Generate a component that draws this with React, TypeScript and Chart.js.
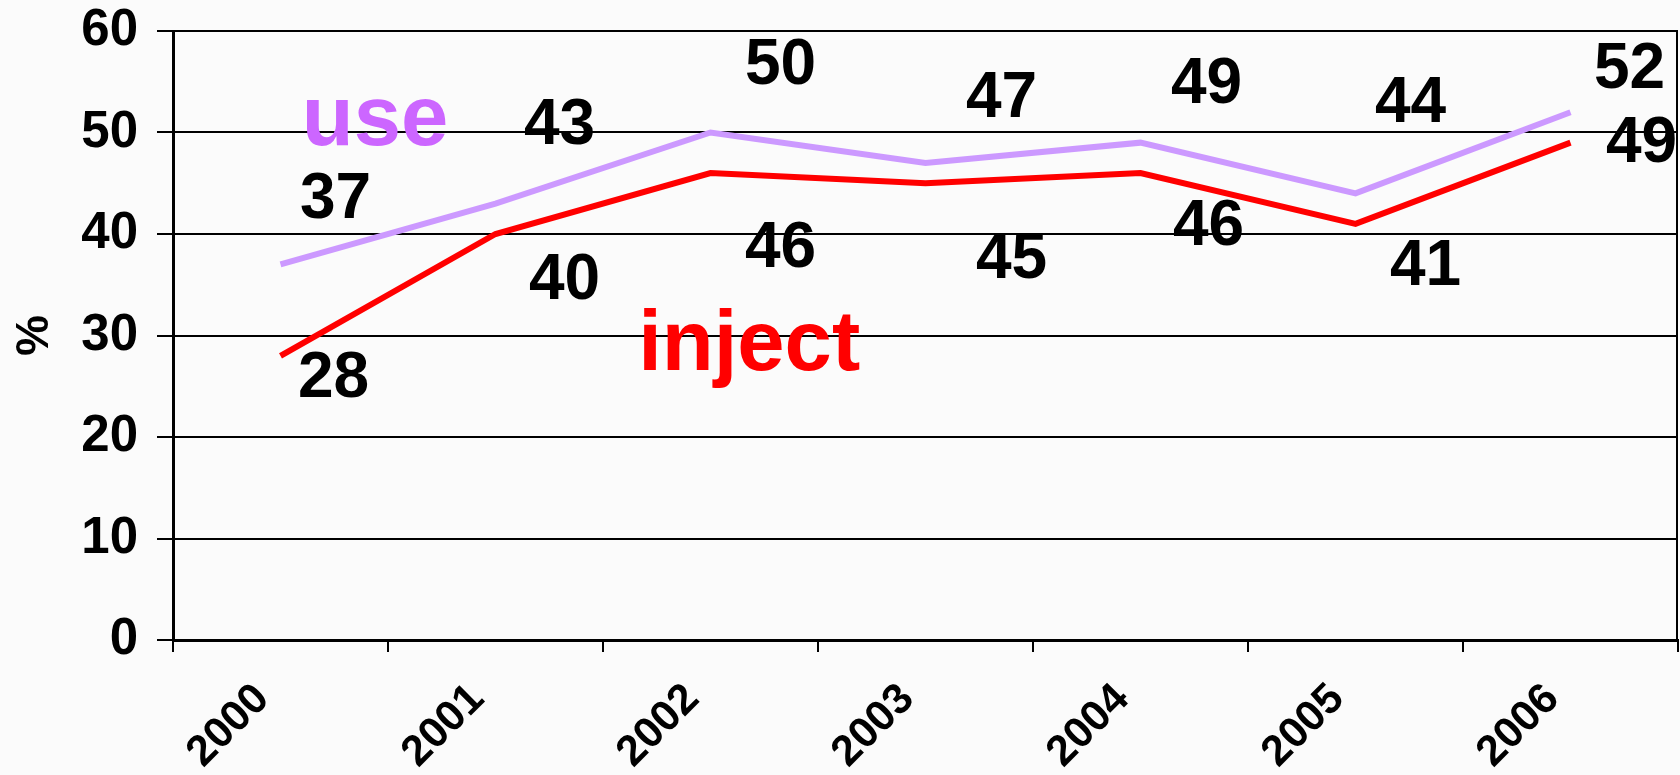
import React, { useEffect, useRef } from "react";
import { Chart, registerables } from "chart.js";

Chart.register(...registerables);

const years = ["2000", "2001", "2002", "2003", "2004", "2005", "2006"];
const useValues = [37, 43, 50, 47, 49, 44, 52];
const injectValues = [28, 40, 46, 45, 46, 41, 49];
const yMin = 0;
const yMax = 60;
const yStep = 10;

// pixel offsets of value labels from their points (layout only)
const useLabelOffsets = [[55, -64], [64, -77], [70, -66], [76, -64], [66, -57], [55, -89], [59, -42]];
const injectLabelOffsets = [[53, 24], [69, 47], [70, 76], [86, 77], [68, 54], [70, 44], [71, 2]];

// series name annotations (category index, value at baseline)
const useNameAt = [0.44, 48.8];
const injectNameAt = [2.18, 26.6];

const FONT = '"Liberation Sans", Arial, sans-serif';
const USE_LINE = "#CC99FF";
const USE_TEXT = "#CC66FF";
const INJECT = "#FF0000";

const labelsPlugin = {
  id: "valueLabels",
  afterDatasetsDraw(chart: any) {
    const ctx = chart.ctx;
    const xs = chart.scales.x;
    const ys = chart.scales.y;
    const area = chart.chartArea;
    ctx.save();
    // right border of plot
    ctx.strokeStyle = "#000";
    ctx.lineWidth = 2;
    ctx.beginPath();
    ctx.moveTo(area.right - 1, area.top);
    ctx.lineTo(area.right - 1, area.bottom);
    ctx.stroke();

    ctx.font = `bold 64px ${FONT}`;
    ctx.fillStyle = "#000";
    ctx.textAlign = "center";
    ctx.textBaseline = "middle";
    useValues.forEach((v, i) => {
      const px = xs.getPixelForValue(i);
      const py = ys.getPixelForValue(v);
      ctx.fillText(String(v), px + useLabelOffsets[i][0], py + useLabelOffsets[i][1]);
    });
    injectValues.forEach((v, i) => {
      const px = xs.getPixelForValue(i);
      const py = ys.getPixelForValue(v);
      ctx.fillText(String(v), px + injectLabelOffsets[i][0], py + injectLabelOffsets[i][1]);
    });

    ctx.font = `bold 85px ${FONT}`;
    ctx.textBaseline = "alphabetic";
    ctx.fillStyle = USE_TEXT;
    ctx.fillText("use", xs.getPixelForValue(useNameAt[0]), ys.getPixelForValue(useNameAt[1]));
    ctx.fillStyle = INJECT;
    ctx.fillText("inject", xs.getPixelForValue(injectNameAt[0]), ys.getPixelForValue(injectNameAt[1]));
    ctx.restore();
  },
};

export default function App() {
  const canvasRef = useRef<HTMLCanvasElement | null>(null);

  useEffect(() => {
    if (!canvasRef.current) return;
    const chart = new Chart(canvasRef.current, {
      type: "line",
      data: {
        labels: years,
        datasets: [
          {
            label: "use",
            data: useValues,
            borderColor: USE_LINE,
            backgroundColor: USE_LINE,
            borderWidth: 6,
            pointRadius: 0,
            tension: 0,
          },
          {
            label: "inject",
            data: injectValues,
            borderColor: INJECT,
            backgroundColor: INJECT,
            borderWidth: 6,
            pointRadius: 0,
            tension: 0,
          },
        ],
      },
      options: {
        responsive: false,
        maintainAspectRatio: false,
        animation: false,
        layout: { padding: { left: 0, top: 31, right: 2, bottom: 0 } },
        plugins: {
          legend: { display: false },
          tooltip: { enabled: false },
        },
        scales: {
          x: {
            type: "category",
            offset: true,
            grid: {
              offset: true,
              drawOnChartArea: false,
              drawTicks: true,
              tickLength: 12,
              color: "#000",
              lineWidth: 2,
            },
            border: { color: "#000", width: 3 },
            ticks: {
              autoSkip: false,
              minRotation: 45,
              maxRotation: 45,
              color: "#000",
              padding: 22,
              labelOffset: -18,
              font: { family: FONT, size: 43, weight: "bold" },
            },
            afterFit(scale: any) {
              scale.height = 135;
              scale.paddingLeft = 0;
              scale.paddingRight = 0;
            },
          },
          y: {
            min: yMin,
            max: yMax,
            ticks: {
              stepSize: yStep,
              color: "#000",
              padding: 19,
              font: { family: FONT, size: 51, weight: "bold" },
            },
            grid: {
              color: "#000",
              lineWidth: 2,
              tickLength: 16,
            },
            border: { color: "#000", width: 3 },
            title: {
              display: true,
              text: "%",
              color: "#000",
              padding: { top: 8, bottom: 0 },
              font: { family: FONT, size: 46, weight: "bold" },
            },
            afterFit(scale: any) {
              scale.width = 173;
              scale.paddingTop = 0;
              scale.paddingBottom = 0;
            },
          },
        },
      },
      plugins: [labelsPlugin],
    });
    return () => chart.destroy();
  }, []);

  return (
    <div
      style={{
        position: "fixed",
        left: 0,
        top: 0,
        width: 1680,
        height: 775,
        background: "#fbfbfb",
      }}
    >
      <canvas ref={canvasRef} width={1680} height={775} style={{ display: "block" }} />
    </div>
  );
}
